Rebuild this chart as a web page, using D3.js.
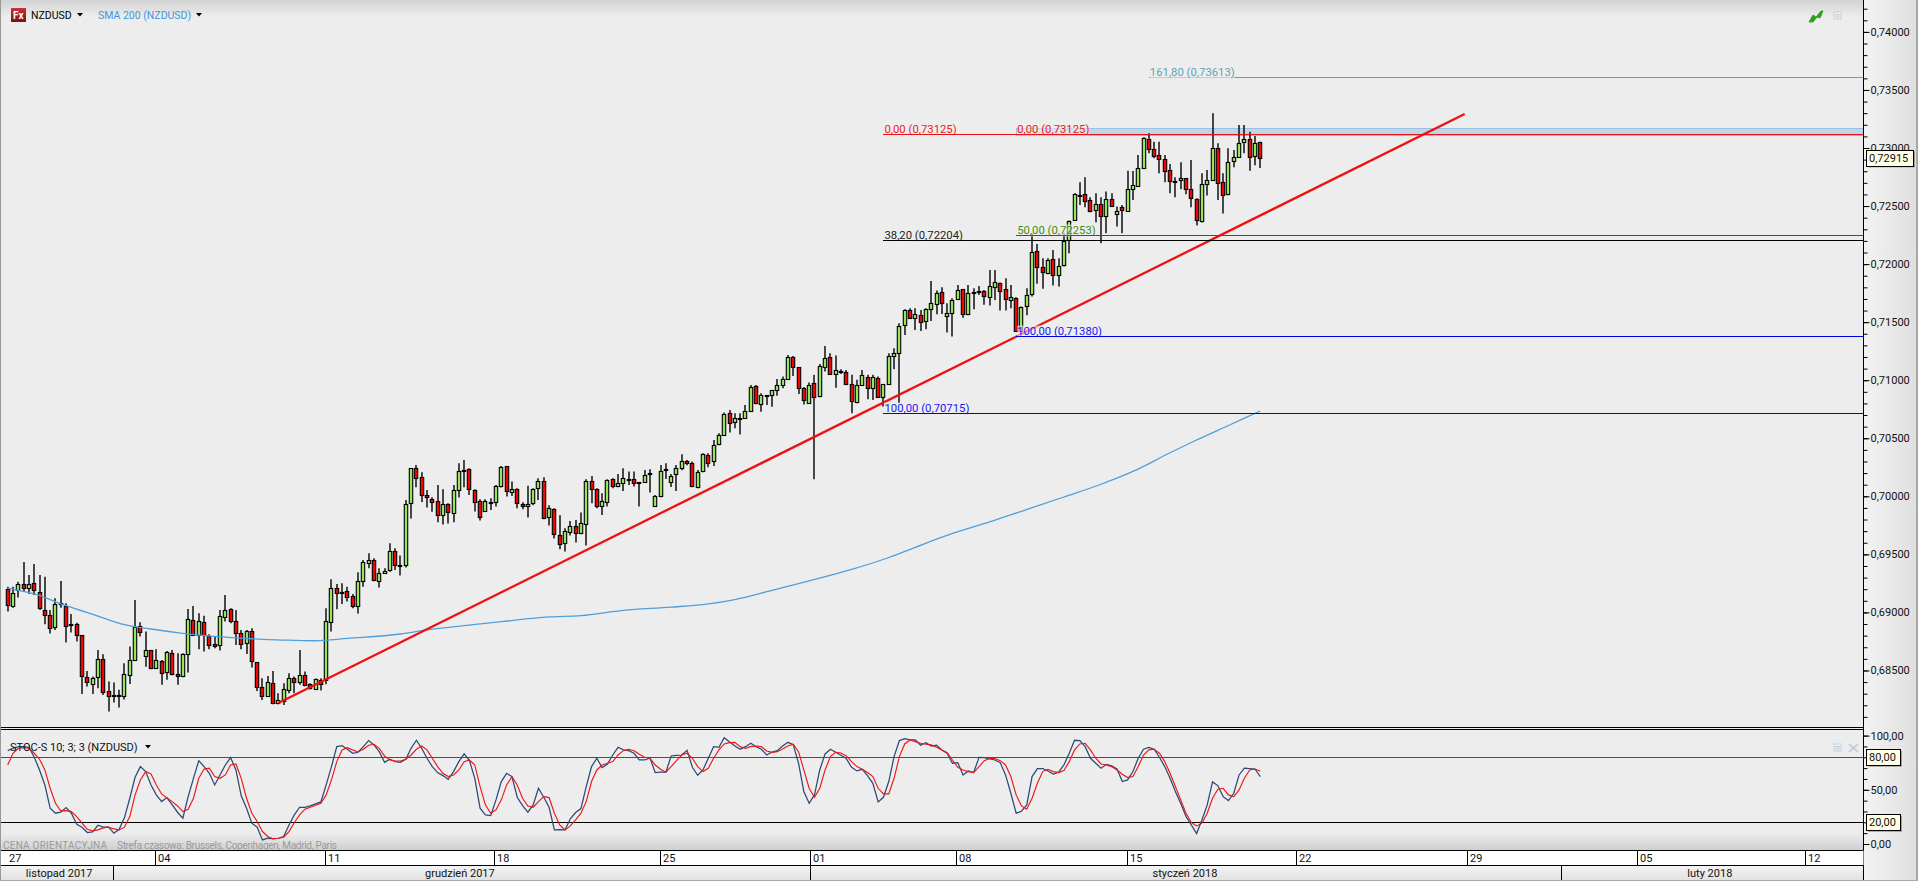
<!DOCTYPE html>
<html><head><meta charset="utf-8">
<script src="https://cdn.jsdelivr.net/npm/d3@7"></script>
<style>
html,body{margin:0;padding:0;background:#ededed;overflow:hidden}
svg{display:block}
text{font-family:Roboto,Tahoma,sans-serif}
</style></head><body>
<svg id="c" width="1918" height="881"></svg>
<script>
// prices are in 1/100000 of a dollar (69199 = 0,69199)
const directions = [
"RGGRGRRRRG","GRRRRRGGRR","RRGGGRGRGR","GRRGGRGRRR","GGRRRGRRRG",
"RGGGRGRRGR","GGRRRRGGGR","GGGRGGGRRR","RRGRGGRRRR","GRGGRGRRGG",
"GRGRRGGRGG","RRGGRGGRRR","GRGGRGGGRR","GGRGGGRGRG","GRGRGGGGRR",
"RGRGGRGRRR","GGRGRGGGGG","RGRGGGRGGG","RGRRRGGRRG","RGGGRRGRGG",
"GGRRRGRGRG","RGGGGRRRRR","RGRRRGGGRR","GGGGRGR"].join("");
const bodyTops = [
69199,69171,69248,69248,69248,69251,69179,69024,68981,69070,
69084,69059,68898,68898,68803,68447,68433,68602,68597,68321,
68287,68287,68467,68588,68872,68881,68674,68674,68588,68579,
68657,68648,68467,68640,68941,68932,68924,68915,68795,68726,
68967,69018,69027,68924,68820,68838,68838,68571,68355,68398,
68390,68243,68338,68433,68433,68459,68459,68381,68424,68416,
68924,69208,69208,69173,69182,69139,69268,69432,69449,69449,
69343,69354,69526,69526,69412,69932,70242,70242,70164,70009,
69975,69958,69932,69932,70052,70216,70227,70233,70052,69958,
69958,69949,70087,70250,70259,70061,70061,69932,69932,70061,
70130,70130,69897,69889,69665,69699,69742,69742,69768,70130,
70130,70061,69958,70138,70147,70112,70156,70147,70147,70121,
70181,70199,70001,70216,70233,70173,70242,70302,70302,70285,
70207,70362,70354,70440,70526,70707,70715,70672,70678,70732,
70938,70947,70870,70872,70913,70956,71008,71198,71198,71112,
70931,70957,70980,71120,71189,71198,71086,71077,71069,70965,
70957,71043,71026,71026,71017,70965,71206,71232,71465,71602,
71602,71568,71559,71611,71663,71749,71757,71577,71689,71775,
71783,71749,71757,71766,71766,71809,71843,71835,71783,71714,
71706,71628,71732,72102,72111,71973,72033,72042,71982,72197,
72375,72602,72596,72602,72550,72516,72516,72559,72559,72455,
72490,72645,72679,72826,73084,73075,72989,72937,72903,72808,
72714,72739,72739,72645,72559,72688,72722,72998,72998,72705,
72877,72920,73041,73075,73075,73041,73049];
const bodyBottoms = [
69061,69053,69194,69208,69208,69191,69036,68975,68863,68872,
69073,68881,68892,68803,68450,68398,68387,68442,68312,68281,
68281,68281,68278,68459,68588,68829,68622,68519,68519,68476,
68485,68467,68456,68450,68640,68803,68803,68803,68717,68714,
68717,68958,68924,68820,68726,68734,68579,68355,68284,68278,
68218,68218,68238,68330,68398,68398,68373,68347,68338,68381,
68419,68915,69165,69168,69130,69053,69053,69268,69423,69277,
69268,69343,69363,69406,69404,69406,69940,70156,70009,69992,
69949,69837,69837,69863,69854,70052,70222,70061,69949,69820,
69871,69940,69949,70087,70044,70035,69940,69917,69914,69940,
70069,69811,69820,69673,69587,69596,69691,69682,69682,69760,
70061,69914,69914,69949,70087,70087,70112,70141,70112,70112,
70121,70190,69914,70001,70224,70121,70190,70242,70285,70087,
70078,70216,70285,70302,70448,70526,70629,70638,70672,70672,
70738,70801,70792,70867,70870,70913,70957,71008,71112,70931,
70833,70802,70853,70862,71112,71051,71051,71069,70965,70819,
70810,70957,70931,70931,70853,70853,70965,71206,71232,71473,
71534,71534,71499,71508,71611,71654,71663,71557,71577,71697,
71568,71568,71749,71757,71723,71714,71800,71766,71697,71689,
71422,71422,71637,71741,71973,71930,71922,71904,71904,71990,
72206,72378,72590,72541,72455,72464,72412,72412,72498,72430,
72464,72455,72645,72671,72826,72989,72929,72903,72800,72714,
72705,72722,72645,72567,72378,72369,72688,72722,72696,72593,
72602,72886,72920,73049,72920,72929,72915];
const highs = [
69222,69222,69265,69435,69323,69417,69323,69308,69021,69122,
69271,69079,68987,68912,68803,68496,68447,68677,68640,68404,
68396,68333,68562,68706,69107,68915,68835,68674,68683,68591,
68668,68677,68648,68648,69030,69056,68993,68972,68812,68792,
69021,69150,69036,69021,68849,68849,68863,68571,68433,68453,
68496,68304,68390,68476,68447,68677,68490,68390,68430,68433,
69036,69285,69245,69251,69222,69159,69346,69452,69509,69466,
69380,69380,69595,69552,69490,69969,70242,70270,70207,70055,
69992,70098,70061,69940,70098,70285,70313,70242,70061,69975,
69975,69983,70098,70262,70259,70127,70069,69949,70090,70069,
70156,70164,69923,69897,69837,69725,69788,69797,69860,70147,
70176,70069,70026,70147,70156,70193,70242,70213,70213,70121,
70227,70233,70012,70270,70285,70193,70270,70362,70313,70299,
70227,70371,70371,70486,70543,70721,70744,70715,70715,70787,
70959,70959,70887,70872,70916,71010,71031,71218,71209,71112,
70942,70980,71046,71140,71295,71232,71212,71094,71089,71046,
71003,71089,71046,71046,71031,70965,71232,71275,71490,71611,
71620,71620,71605,71620,71855,71772,71800,71663,71706,71821,
71783,71821,71792,71812,71778,71950,71950,71841,71878,71821,
71714,71634,71792,72266,72174,72051,72051,72122,72051,72266,
72375,72610,72705,72748,72576,72610,72576,72625,72610,72496,
72510,72805,72803,72940,73092,73127,73055,73055,72940,72863,
72748,72877,72739,72897,72567,72783,72811,73299,73041,72783,
72998,72983,73199,73199,73141,73104,73055];
const lows = [
69007,69041,69128,69179,69159,69150,69021,68898,68818,68849,
69041,68740,68826,68749,68298,68361,68298,68347,68289,68146,
68223,68180,68249,68384,68588,68792,68531,68510,68519,68376,
68419,68459,68376,68442,68482,68803,68683,68663,68683,68691,
68671,68921,68906,68720,68683,68642,68525,68324,68246,68275,
68209,68209,68203,68304,68304,68376,68364,68335,68333,68327,
68381,68835,69027,69073,69093,69036,68990,69222,69380,69268,
69214,69337,69351,69366,69317,69386,69808,70078,69952,69903,
69866,69777,69757,69765,69777,69989,70078,70012,69869,69791,
69869,69883,69912,70075,69998,70003,69897,69889,69817,69923,
69969,69803,69748,69636,69544,69524,69662,69602,69673,69576,
69940,69897,69840,69912,70069,70078,70046,70098,70084,69912,
70121,70032,69909,69992,70150,70081,70046,70224,70267,70078,
70069,70207,70250,70262,70440,70520,70549,70586,70532,70672,
70738,70792,70729,70786,70772,70867,70931,71008,71037,70882,
70790,70802,70147,70853,71074,71046,70934,71054,70960,70716,
70802,70957,70836,70830,70853,70773,70965,71094,70802,71390,
71528,71433,71424,71439,71511,71568,71571,71410,71376,71691,
71539,71559,71611,71734,71651,71643,71691,71600,71600,71620,
71422,71422,71559,71721,71830,71787,71913,71815,71807,71979,
72094,72378,72510,72490,72447,72361,72180,72266,72496,72323,
72266,72455,72553,72668,72826,72955,72912,72783,72705,72610,
72576,72645,72602,72490,72332,72358,72590,72716,72553,72435,
72593,72834,72920,72955,72805,72851,72828];
const smaBars = [0,5,11,17,22,27,33,39,46,52,58,64,74,79,86,93,102,108,116,125,132,137,144,151,159,166,171,178,185,191,199,206,212,219,224,230,236];
const smaValues = [69210,69159,69058,68969,68895,68857,68820,68793,68773,68762,68756,68776,68814,68849,68886,68920,68961,68973,69018,69045,69073,69111,69189,69271,69370,69473,69561,69680,69779,69871,69994,70104,70214,70375,70485,70610,70735];
const trendBars = [51,274.5];
const trendValues = [68220,73293];
const stochK = [
86.1,88.3,89.8,89.8,89.2,80.0,68.3,54.5,33.0,28.4,29.3,33.6,28.4,18.2,15.5,10.6,11.2,17.3,15.5,15.5,
10.0,13.6,24.4,42.2,61.6,71.4,66.8,54.5,45.3,39.1,42.8,36.1,29.3,23.8,43.7,60.6,76.9,71.4,65.2,54.5,
63.7,72.9,79.7,68.3,44.4,33.0,19.2,15.5,3.8,5.3,5.0,5.3,6.9,17.6,26.8,33.9,33.9,35.1,37.0,38.8,
54.5,71.4,89.8,90.7,87.4,83.7,84.6,89.8,95.4,91.4,85.2,75.4,78.2,76.0,75.4,78.2,88.3,95.7,88.3,79.1,
71.4,65.9,63.1,59.7,66.8,76.0,83.1,76.9,60.6,33.0,26.8,26.2,40.7,57.6,
65.2,62.2,43.1,35.4,29.3,36.1,51.4,43.1,33.9,13.0,13.3,13.0,23.2,29.0,32.7,53.0,71.4,79.1,70.5,73.8,
82.1,89.2,86.8,86.1,83.7,77.5,77.5,79.4,65.9,66.2,66.2,81.2,81.8,82.1,86.4,70.8,63.4,68.3,79.1,89.8,
89.2,98.1,94.1,90.4,87.4,89.8,92.9,89.8,87.4,82.1,84.9,86.1,90.4,93.8,91.7,74.5,48.4,37.6,45.3,68.3,
83.1,87.4,84.6,81.8,78.8,70.8,67.4,68.9,63.1,56.0,38.8,43.1,57.6,80.6,95.4,97.2,96.0,96.0,91.1,93.5,
90.4,91.1,86.8,83.7,74.5,75.1,63.7,67.4,65.9,80.0,79.7,78.5,77.5,75.1,
63.7,46.8,28.4,30.2,36.1,62.2,69.5,69.5,67.4,64.6,66.2,72.9,83.7,95.7,95.4,89.8,79.1,74.5,69.9,73.5,
72.0,69.2,57.6,59.1,66.8,79.1,87.4,89.2,87.4,80.0,71.4,60.6,48.4,37.6,25.3,17.6,9.6,22.2,36.1,57.3,
53.9,43.7,40.1,46.8,63.7,69.9,69.5,69.2,62.2];
const stochD = [
72.9,83.7,88.3,88.9,88.3,83.7,78.2,68.3,51.4,37.6,30.5,30.8,29.9,25.3,19.2,13.6,12.1,13.0,14.9,15.5,
13.9,13.0,15.5,25.3,45.3,59.1,66.8,64.6,54.5,46.2,42.5,39.1,35.1,29.9,32.1,42.2,60.6,69.2,69.9,62.2,
60.6,63.7,72.9,73.8,60.6,42.2,28.4,20.7,11.5,6.9,4.7,5.3,6.3,11.5,19.8,26.8,32.1,33.9,35.8,37.6,
45.3,59.1,76.0,86.8,88.9,86.8,84.9,87.4,91.1,92.0,88.3,81.2,77.5,76.6,76.6,78.2,82.1,87.4,90.4,86.8,
79.1,71.4,65.2,62.2,63.7,68.3,76.0,77.5,72.9,53.0,36.1,28.4,31.5,40.7,
54.5,62.2,54.5,42.2,35.1,33.9,39.1,43.7,42.8,28.4,17.6,13.0,16.7,22.2,28.4,39.1,57.6,68.3,72.9,74.5,
76.0,82.1,86.1,87.4,86.1,82.8,80.0,79.1,72.9,68.9,66.2,71.4,76.9,82.1,83.7,79.1,71.4,66.8,69.9,79.1,
86.8,92.3,93.5,93.8,89.8,88.3,89.8,90.4,89.8,85.8,84.6,85.2,87.7,90.4,92.0,85.2,68.3,51.4,43.1,51.4,
68.3,80.6,84.6,84.0,81.2,76.0,71.4,68.9,65.9,62.2,51.4,46.2,46.2,60.6,80.6,92.3,96.0,94.4,92.9,92.0,
91.4,89.2,86.8,84.3,77.5,70.8,68.3,66.8,65.9,71.4,76.9,79.1,78.8,76.9,
72.9,62.2,45.3,35.1,32.1,42.2,56.0,66.8,68.9,66.8,65.9,67.7,76.0,86.8,92.3,92.9,86.8,79.1,73.8,72.9,
71.4,68.3,64.3,61.3,62.2,71.4,82.1,86.8,87.4,83.7,76.0,65.2,53.0,40.7,28.4,19.8,16.7,19.2,28.4,42.2,
50.5,51.4,45.3,43.7,49.9,60.6,68.3,69.2,67.1];
const fibLabels = ["161,80","0,00","0,00","50,00","38,20","100,00","100,00"];
const fibPrices = [73613,73125,73125,72253,72204,71380,70715];
const fibStartBars = [215,165,190,190,165,190,165];
const priceTicks = d3.range(68500,74001,500);
const stochTicks = [0,50,100];
const stochLevels = [80,20];
const lastPrice = 72915;
const dayLabels = ["27","04","11","18","25","01","08","15","22","29","05","12"];
const dayBars = [-1.45,27.75,59.7,91.6,122.9,151.1,178.7,210.8,242.8,274.9,307,338.7];
const monthLabels = ["listopad 2017","grudzień 2017","styczeń 2018","luty 2018"];
const monthBoundaries = [19.78,151.1,292.6];
const monthCentres = [9.7,85.2,221.8,320.7];

const W=1918,H=881,axisX=1863.5,mainBottom=727;
const svg=d3.select("#c");
const barX=d3.scaleLinear().domain([0,236]).range([7.7,1260.3]);
const priceY=d3.scaleLinear().domain([73125,70715]).range([133.5,413.3]);
const stochY=d3.scaleLinear().domain([100,0]).range([735.6,844]);
const fmtP=v=>(v/100000).toFixed(5).replace(".",",");
const fmtS=v=>v.toFixed(2).replace(".",",");

// --- backgrounds
const defs=svg.append("defs");
function vgrad(id,stops,dir){const g=defs.append("linearGradient").attr("id",id);
 if(dir==="h")g.attr("x1",0).attr("x2",1).attr("y1",0).attr("y2",0);else g.attr("x1",0).attr("x2",0).attr("y1",0).attr("y2",1);
 stops.forEach(s=>g.append("stop").attr("offset",s[0]).attr("stop-color",s[1]));}
vgrad("top",[[0,"#d2d2d2"],[1,"#ededed"]]);
vgrad("bot",[[0,"#ededed"],[1,"#cfcfcf"]]);
vgrad("col",[[0,"#f3f3f3"],[1,"#dfdfdf"]],"h");
vgrad("mon",[[0,"#f4f4f4"],[1,"#e2e2e2"]]);
vgrad("fx",[[0,"#c8343c"],[1,"#7e0f16"]]);
svg.append("rect").attr("width",W).attr("height",H).attr("fill","#ededed");
svg.append("rect").attr("width",axisX).attr("height",17).attr("fill","url(#top)");
svg.append("rect").attr("y",833).attr("width",axisX).attr("height",17).attr("fill","url(#bot)");
svg.append("rect").attr("x",axisX).attr("width",W-axisX).attr("height",H).attr("fill","url(#col)");
svg.append("rect").attr("y",865).attr("width",axisX).attr("height",15).attr("fill","url(#mon)");
svg.append("rect").attr("width",1).attr("height",H).attr("fill","#999");
svg.append("rect").attr("x",W-2).attr("width",2).attr("height",H).attr("fill","#a8a8a8");
svg.append("rect").attr("y",H-1).attr("width",W).attr("height",1).attr("fill","#a8a8a8");

// --- main panel clip
defs.append("clipPath").attr("id","mainClip").append("rect").attr("width",axisX).attr("height",mainBottom);
const main=svg.append("g").attr("clip-path","url(#mainClip)");

// band behind the top fib level
const bandBar=190;
main.append("rect").attr("x",barX(bandBar)).attr("width",axisX-barX(bandBar))
 .attr("y",priceY(73172)).attr("height",priceY(73112)-priceY(73172))
 .attr("fill","#bcd6ea").attr("stroke","#9cc0de").attr("stroke-width",1).attr("shape-rendering","crispEdges");

// candles
const smaPts=smaBars.map((b,i)=>[b,smaValues[i]]);
const candles=directions.split("").map((d,i)=>({i,d,t:bodyTops[i],b:bodyBottoms[i],h:highs[i],l:lows[i]}));
const cx=d=>Math.round(barX(d.i));
const cg=main.append("g");
cg.selectAll("line").data(candles).join("line")
 .attr("x1",d=>cx(d)).attr("x2",d=>cx(d))
 .attr("y1",d=>priceY(d.h)).attr("y2",d=>priceY(d.l))
 .attr("stroke","#000").attr("stroke-width",1.4);
cg.selectAll("rect").data(candles).join("rect")
 .attr("x",d=>cx(d)-1.7).attr("width",3.4)
 .attr("y",d=>Math.round(priceY(d.t))+.5)
 .attr("height",d=>Math.max(1,Math.round(priceY(d.b))-Math.round(priceY(d.t))))
 .attr("fill",d=>d.d==="G"?"#96e65c":"#fb0000")
 .attr("stroke","#000").attr("stroke-width",1.1);
main.append("path").datum(smaPts)
 .attr("d",d3.line().x(d=>barX(d[0])).y(d=>priceY(d[1])).curve(d3.curveMonotoneX))
 .attr("fill","none").attr("stroke","#4f9fdc").attr("stroke-width",1.3);

// trend line
main.append("path").datum(trendBars.map((b,i)=>[b,trendValues[i]]))
 .attr("d",d3.line().x(d=>barX(d[0])).y(d=>priceY(d[1])))
 .attr("fill","none").attr("stroke","#f01010").attr("stroke-width",2.3);

// fib levels
const fibColors=["#5fa3b5","#e8101a","#e8101a","#008000","#000","#0000e0","#0000e0"];
const fibText=["#5fa3b5","#f01818","#f01818","#3f8f10","#222","#1818f0","#1818f0"];
fibPrices.forEach((p,i)=>{
 const x0=barX(fibStartBars[i]);
 const y=Math.round(priceY(p))+.5;
 main.append("line").attr("x1",x0).attr("x2",axisX).attr("y1",y).attr("y2",y)
  .attr("stroke",fibColors[i]).attr("stroke-width",1).attr("shape-rendering","crispEdges");
 const label=`${fibLabels[i]} (${fmtP(p)})`;
 const t=main.append("text").attr("x",x0+1).attr("y",y-2).attr("font-size",11.3).attr("fill",fibText[i]).text(label);
 const bb=t.node().getBBox();
 main.insert("rect","text").attr("x",bb.x).attr("y",bb.y+1).attr("width",bb.width).attr("height",bb.height-1).attr("fill","#eeeeee").attr("opacity",.6);
 t.raise();
});

// --- header
svg.append("rect").attr("x",11).attr("y",8).attr("width",15).attr("height",14).attr("fill","url(#fx)");
svg.append("text").attr("x",13).attr("y",19).attr("font-size",10).attr("font-weight",700).attr("fill","#fff").text("Fx");
svg.append("text").attr("x",31).attr("y",19).attr("font-size",10.5).attr("fill","#000").text("NZDUSD");
svg.append("text").attr("x",98).attr("y",19).attr("font-size",10.5).attr("fill","#3f95dd").text("SMA 200 (NZDUSD)");
function tri(x,y){svg.append("path").attr("d",`M${x-3},${y}h6l-3,3.5z`).attr("fill","#000");}
tri(80,13);tri(199,13);
svg.append("path").attr("d","M1809,22l4,-7l3,2l5,-6l2,0l-3,7l-3,-1l-4,5z").attr("fill","#2f9a1f").attr("stroke","#3aa82a").attr("stroke-width",1);
function miniBox(x,y){svg.append("rect").attr("x",x).attr("y",y).attr("width",7).attr("height",7).attr("fill","#eef2f6").attr("stroke","#c4cfda");
 svg.append("rect").attr("x",x+2).attr("y",y+2.5).attr("width",3).attr("height",2.5).attr("fill","none").attr("stroke","#b0bcc8").attr("stroke-width",.7);}
miniBox(1834,12);miniBox(1834,744);
svg.append("path").attr("d","M1849,744l9,8M1858,744l-9,8").attr("stroke","#c4cfda").attr("stroke-width",2);

// --- separators
[727.5,729.5].forEach(y=>svg.append("line").attr("x1",1).attr("x2",axisX).attr("y1",y).attr("y2",y).attr("stroke","#000").attr("stroke-width",1));

// --- stochastic
stochLevels.forEach((v,i)=>{const y=Math.round(stochY(v))+.5;
 svg.append("line").attr("x1",1).attr("x2",axisX).attr("y1",y).attr("y2",y).attr("stroke",i?"#000":"#e01010").attr("stroke-width",1);});
const sl=d3.line().x((d,i)=>barX(i)).y(d=>stochY(d));
svg.append("path").datum(stochK).attr("d",sl).attr("fill","none").attr("stroke","#2b4a78").attr("stroke-width",1.25);
svg.append("path").datum(stochD).attr("d",sl).attr("fill","none").attr("stroke","#f01616").attr("stroke-width",1.15);
svg.append("text").attr("x",10).attr("y",751).attr("font-size",11).attr("fill","#111").text("STOC-S 10; 3; 3 (NZDUSD)");
tri(148,745);
svg.append("text").attr("x",3).attr("y",849).attr("font-size",10).attr("fill","#9a9a9a").attr("textLength",104).text("CENA ORIENTACYJNA");
svg.append("text").attr("x",117).attr("y",849).attr("font-size",10).attr("fill","#9a9a9a").attr("textLength",220).text("Strefa czasowa: Brussels, Copenhagen, Madrid, Paris");

// --- price axis
const ax=svg.append("g").attr("transform",`translate(${axisX},0)`);
const minor=d3.range(68100,74300,100);
function styleAxis(g){g.selectAll("text").attr("font-size",11).attr("fill","#111").attr("font-family",'Roboto,Tahoma,sans-serif');g.selectAll("line").attr("stroke","#000");g.select(".domain").remove();}
ax.append("g").call(d3.axisRight(priceY).tickValues(minor).tickSize(4).tickFormat("")).call(styleAxis);
ax.append("g").call(d3.axisRight(priceY).tickValues(priceTicks).tickSize(6).tickPadding(1).tickFormat(fmtP)).call(styleAxis);
const ax2=svg.append("g").attr("transform",`translate(${axisX},0)`);
ax2.append("g").call(d3.axisRight(stochY).tickValues(d3.range(0,101,10)).tickSize(4).tickFormat("")).call(styleAxis);
ax2.append("g").call(d3.axisRight(stochY).tickValues(stochTicks).tickSize(6).tickPadding(1).tickFormat(fmtS)).call(styleAxis);
svg.append("line").attr("x1",axisX).attr("x2",axisX).attr("y1",0).attr("y2",880).attr("stroke","#000");

function tag(y,txt,w){const x=1866;
 svg.append("rect").attr("x",x+2).attr("y",y-6.5).attr("width",w).attr("height",16).attr("fill","#555").attr("opacity",.5);
 svg.append("rect").attr("x",x+.5).attr("y",Math.round(y-8)+.5).attr("width",w).attr("height",16).attr("fill","#ffffe6").attr("stroke","#000");
 svg.append("text").attr("x",x+3).attr("y",y+4).attr("font-size",11).attr("fill","#111").text(txt);}
tag(priceY(lastPrice),fmtP(lastPrice),47);
stochLevels.forEach(v=>tag(stochY(v),fmtS(v),34));

// --- date rows
svg.append("rect").attr("x",1).attr("y",850).attr("width",axisX-1).attr("height",15).attr("fill","#fff");
[850.5,865.5].forEach(y=>svg.append("line").attr("x1",1).attr("x2",axisX).attr("y1",y).attr("y2",y).attr("stroke","#000"));
const dg=svg.append("g");
dayBars.forEach((b,i)=>{const x=Math.round(barX(b))+.5;
 if(x>3)dg.append("line").attr("x1",x).attr("x2",x).attr("y1",850).attr("y2",865).attr("stroke","#000");
 dg.append("text").attr("x",Math.max(x+2.5,9)).attr("y",862).attr("font-size",11).attr("fill","#111").text(dayLabels[i]);});
monthBoundaries.forEach(b=>{const x=Math.round(barX(b))+.5;
 dg.append("line").attr("x1",x).attr("x2",x).attr("y1",865).attr("y2",880).attr("stroke","#000");});
monthLabels.forEach((m,i)=>dg.append("text").attr("x",barX(monthCentres[i])).attr("y",877).attr("text-anchor","middle").attr("font-size",11).attr("fill","#111").text(m));
</script>
</body></html>
